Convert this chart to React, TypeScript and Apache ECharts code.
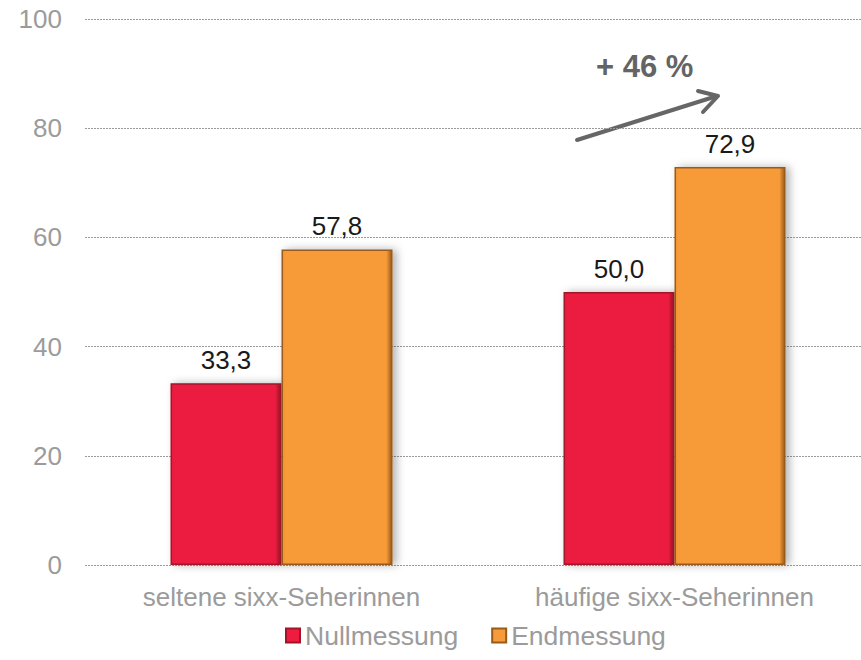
import React, { useEffect, useRef } from "react";
import * as echarts from "echarts";

const categories = ["seltene sixx-Seherinnen", "häufige sixx-Seherinnen"];
const nullmessung = [33.3, 50.0];
const endmessung = [57.8, 72.9];
const yTicks = { min: 0, max: 100, interval: 20 };
const annotation = "+ 46 %";

const FONT = "'Liberation Sans', Arial, Helvetica, sans-serif";
const fmt = (v: number) => v.toFixed(1).replace(".", ",");

const grad = (edgeL: string, main: string, edgeR: string) =>
  new echarts.graphic.LinearGradient(0, 0, 1, 0, [
    { offset: 0, color: edgeL },
    { offset: 0.03, color: main },
    { offset: 0.95, color: main },
    { offset: 1, color: edgeR },
  ]);

export default function App() {
  const ref = useRef<HTMLDivElement>(null);
  useEffect(() => {
    if (!ref.current) return;
    const chart = echarts.init(ref.current, undefined, { renderer: "svg" });
    const barStyle = (c: any, b: string) => ({
      color: c,
      borderColor: b,
      borderWidth: 1.5,
      shadowColor: "rgba(0,0,0,0.3)",
      shadowBlur: 8,
      shadowOffsetX: 4,
      shadowOffsetY: 0,
    });
    const valueLabel = {
      show: true,
      position: "top",
      distance: 10,
      color: "#1a1a1a",
      fontSize: 26,
      fontFamily: FONT,
      formatter: (p: any) => fmt(p.value),
    };
    chart.setOption({
      animation: false,
      backgroundColor: "#ffffff",
      textStyle: { fontFamily: FONT },
      grid: { left: 85, top: 19, width: 786, height: 546 },
      legend: {
        top: 617,
        left: 280,
        itemWidth: 14,
        itemHeight: 14,
        itemGap: 33,
        icon: "rect",
        textStyle: { color: "#9b9b9b", fontSize: 26.5, fontFamily: FONT },
        data: ["Nullmessung", "Endmessung"],
      },
      xAxis: {
        type: "category",
        data: categories,
        axisLine: { show: false },
        axisTick: { show: false },
        axisLabel: { color: "#9b9b9b", fontSize: 26, fontFamily: FONT, margin: 19 },
      },
      yAxis: {
        type: "value",
        ...yTicks,
        axisLine: { show: false },
        axisTick: { show: false },
        axisLabel: { color: "#9b9b9b", fontSize: 26, fontFamily: FONT, margin: 23 },
        splitLine: { show: true, lineStyle: { color: "#9a9a9a", type: [2, 1], width: 1 } },
      },
      series: [
        {
          name: "Nullmessung",
          type: "bar",
          data: nullmessung,
          barWidth: 111,
          barGap: "0%",
          itemStyle: barStyle(grad("#e01a3b", "#ec1d3f", "#9e1229"), "#a3142c"),
          label: valueLabel,
        },
        {
          name: "Endmessung",
          type: "bar",
          data: endmessung,
          barWidth: 111,
          barGap: "0%",
          itemStyle: barStyle(grad("#f0932f", "#f69b39", "#9a5a1c"), "#9a5a1c"),
          label: valueLabel,
        },
      ],
      graphic: [
        {
          type: "text",
          left: 596,
          top: 51,
          style: {
            text: annotation,
            fill: "#646464",
            fontSize: 31,
            fontWeight: "bold",
            fontFamily: FONT,
          },
        },
        {
          type: "line",
          shape: { x1: 577, y1: 140, x2: 717, y2: 96 },
          style: { stroke: "#666666", lineWidth: 4, lineCap: "round" },
        },
        {
          type: "polyline",
          shape: { points: [[698, 91], [718, 96], [703, 112]] },
          style: { stroke: "#666666", lineWidth: 4, fill: null, lineCap: "round", lineJoin: "round" },
        },
      ],
    });
    return () => chart.dispose();
  }, []);
  return <div ref={ref} style={{ width: 880, height: 660, position: "fixed", left: 0, top: 0 }} />;
}
